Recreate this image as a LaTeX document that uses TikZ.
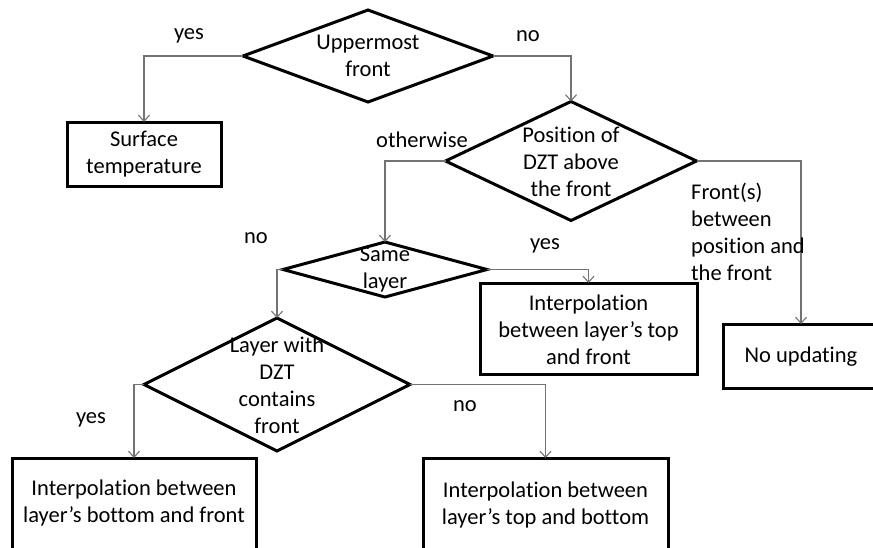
\documentclass[tikz,border=0pt]{standalone}
\usepackage{fontspec}
\setmainfont{Carlito}[Ligatures=NoCommon]
\usetikzlibrary{shapes.geometric,arrows.meta}
\tikzset{
  dia/.style={shape=diamond, draw=black, line width=3pt, inner sep=0pt, outer sep=0pt},
  boxnode/.style={shape=rectangle, draw=black, line width=3pt, inner sep=0pt, outer sep=0pt},
  txt/.style={align=center, inner sep=0pt, font=\fontsize{22.5pt}{27pt}\selectfont},
  lbl/.style={inner sep=0pt, font=\fontsize{22.5pt}{27pt}\selectfont},
  conn/.style={draw=black!55, line width=1.3pt, -{Straight Barb[length=6pt,width=11pt,line width=1.1pt]}}
}
\begin{document}
\begin{tikzpicture}[x=1pt,y=-1pt]
\useasboundingbox (0,0) rectangle (873,547);
\clip (0,0) rectangle (873,547);
\fill[white] (0,0) rectangle (873,547);
% decisions
\node[dia, minimum width=250pt, minimum height=92pt] (d1) at (368,56) {};
\node[txt] (t1) at (368,56) {Uppermost\\front};
\node[dia, minimum width=251pt, minimum height=119pt] (d2) at (571,161) {};
\node[txt] (t2) at (571,162) {Position of\\DZT above\\the front};
\node[dia, minimum width=204pt, minimum height=55pt] (d3) at (385,269.5) {};
\node[txt] (t3) at (385,269.5) {Same\\layer};
\node[dia, minimum width=266pt, minimum height=133pt] (d4) at (277,384.5) {};
\node[txt] (t4) at (277,385) {Layer with\\DZT\\contains\\front};
% boxes
\node[boxnode, minimum width=154pt, minimum height=64pt] (b1) at (144,154) {};
\node[txt] (bt1) at (144,154) {Surface\\temperature};
\node[boxnode, minimum width=217pt, minimum height=91pt] (b2) at (588.5,328.5) {};
\node[txt] (bt2) at (588.5,330) {Interpolation\\between layer’s top\\and front};
\node[boxnode, minimum width=156pt, minimum height=64pt] (b3) at (801,356) {};
\node[txt] (bt3) at (801,357) {No updating};
\node[boxnode, minimum width=244pt, minimum height=92pt] (b4) at (134,504) {};
\node[txt] (bt4) at (134,503) {Interpolation between\\layer’s bottom and front};
\node[boxnode, minimum width=245pt, minimum height=92pt] (b5) at (545.5,504) {};
\node[txt] (bt5) at (545.5,505) {Interpolation between\\layer’s top and bottom};
% connectors
\draw[conn] (d1.west) -| (b1.north);
\draw[conn] (d1.east) -| (d2.north);
\draw[conn] (d2.west) -| (d3.north);
\draw[conn] (d2.east) -| (b3.north);
\draw[conn] (d3.east) -| (b2.north);
\draw[conn] (d3.west) -| (d4.north);
\draw[conn] (d4.west) -| (b4.north);
\draw[conn] (d4.east) -| (b5.north);
% labels
\node[lbl] (l1) at (189,36) {yes};
\node[lbl] (l2) at (528,36) {no};
\node[lbl] (l3) at (422,140) {otherwise};
\node[lbl] (l4) at (256,238) {no};
\node[lbl] (l5) at (545,246) {yes};
\node[txt, align=left, anchor=north west] (l6) at (691,183) {Front(s)\\between\\position and\\the front};
\node[lbl] (l7) at (91,420) {yes};
\node[lbl] (l8) at (465,406) {no};
\end{tikzpicture}
\end{document}
